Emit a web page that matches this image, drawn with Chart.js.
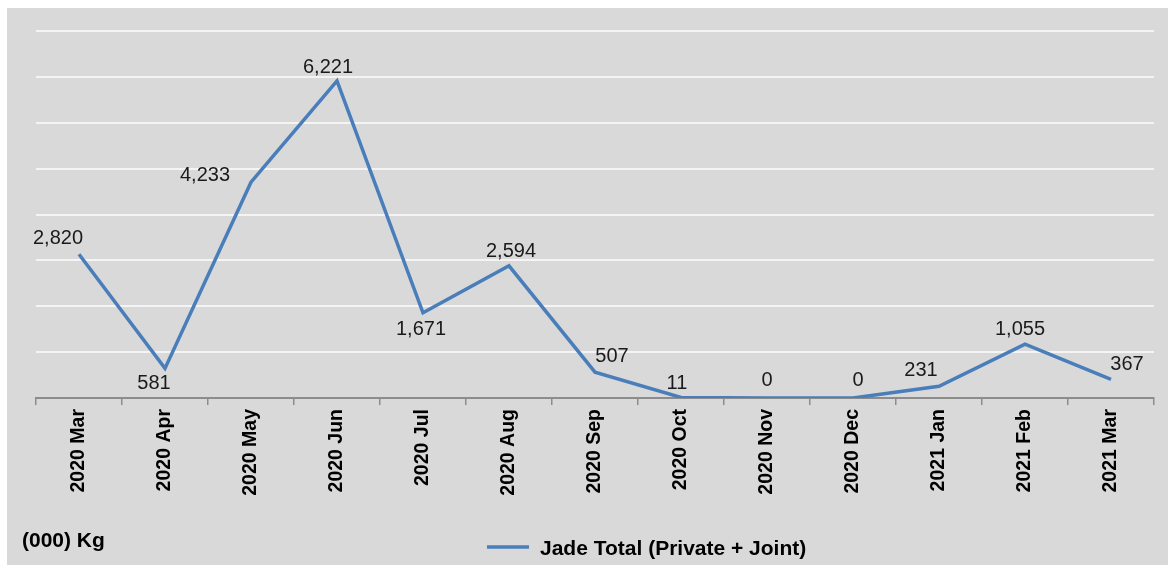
<!DOCTYPE html>
<html>
<head>
<meta charset="utf-8">
<script src="https://cdn.jsdelivr.net/npm/chart.js@4.4.0/dist/chart.umd.min.js"></script>
<style>
  body { margin: 0; background: #ffffff; }
  #box { position: absolute; left: 7px; top: 8px; width: 1161px; height: 557px; background: #d9d9d9; }
</style>
</head>
<body>
<div id="box"><canvas id="jade_chart" width="1161" height="557"></canvas></div>
<script>
// Datos del gráfico
const meses = ['2020 Mar', '2020 Apr', '2020 May', '2020 Jun', '2020 Jul', '2020 Aug', '2020 Sep',
               '2020 Oct', '2020 Nov', '2020 Dec', '2021 Jan', '2021 Feb', '2021 Mar'];
const jadeTotal = [2820, 581, 4233, 6221, 1671, 2594, 507, 11, 0, 0, 231, 1055, 367];
const nombreSerie = 'Jade Total (Private + Joint)';
const unidad = '(000) Kg';

// Desplazamiento de cada etiqueta respecto a su punto (dx, dy)
const desplazamientos = [[-21, -16], [-11, 15], [-46, -7], [-9, -13], [-2, 17], [2, -14], [17, -16],
                         [-4, -14], [0, -18], [5, -18], [-18, -16], [-5, -15], [16, -15]];

const azul = '#4a7ebb';

// Plugin para etiquetas de datos, unidad y leyenda
const etiquetas = {
    id: 'etiquetas',
    afterDatasetsDraw(chart) {
        const ctx = chart.ctx;
        const meta = chart.getDatasetMeta(0);
        ctx.save();
        ctx.font = '20px "Liberation Sans", Arial, sans-serif';
        ctx.fillStyle = '#1a1a1a';
        ctx.textAlign = 'center';
        ctx.textBaseline = 'middle';
        meta.data.forEach((p, i) => {
            const d = desplazamientos[i];
            ctx.fillText(jadeTotal[i].toLocaleString('en-US'), p.x + d[0], p.y + d[1]);
        });

        // unidad abajo a la izquierda
        ctx.font = 'bold 21px "Liberation Sans", Arial, sans-serif';
        ctx.textAlign = 'left';
        ctx.fillStyle = '#000';
        ctx.fillText(unidad, 15, 533);

        // leyenda
        ctx.strokeStyle = azul;
        ctx.lineWidth = 3.5;
        ctx.beginPath();
        ctx.moveTo(480, 539);
        ctx.lineTo(522, 539);
        ctx.stroke();
        ctx.fillText(nombreSerie, 533, 541);
        ctx.restore();
    }
};

new Chart(document.getElementById('jade_chart').getContext('2d'), {
    type: 'line',
    data: {
        labels: meses,
        datasets: [{
            label: nombreSerie,
            data: jadeTotal,
            borderColor: azul,
            backgroundColor: azul,
            borderWidth: 3.5,
            pointRadius: 0,
            tension: 0
        }]
    },
    options: {
        responsive: false,
        animation: false,
        layout: { padding: { top: 23, right: 14, left: 0, bottom: 0 } },
        plugins: {
            legend: { display: false },
            tooltip: { enabled: false }
        },
        scales: {
            x: {
                offset: true,
                afterFit(scale) { scale.height = 167; },
                grid: {
                    offset: true,
                    drawOnChartArea: false,
                    color: '#8c8c8c',
                    lineWidth: 1.5,
                    tickLength: 7
                },
                border: { color: '#8c8c8c', width: 2 },
                ticks: {
                    minRotation: 90,
                    maxRotation: 90,
                    padding: 4,
                    color: '#000',
                    font: { family: '"Liberation Sans", Arial, sans-serif', size: 19.5, weight: 'bold' }
                }
            },
            y: {
                min: 0,
                max: 7200,
                afterFit(scale) { scale.width = 29; },
                ticks: { display: false, stepSize: 900 },
                border: { display: false },
                grid: {
                    drawTicks: false,
                    lineWidth: 2,
                    color: c => (c.tick && c.tick.value === 0) ? 'rgba(0,0,0,0)' : '#f4f4f4'
                }
            }
        }
    },
    plugins: [etiquetas]
});
</script>
</body>
</html>
